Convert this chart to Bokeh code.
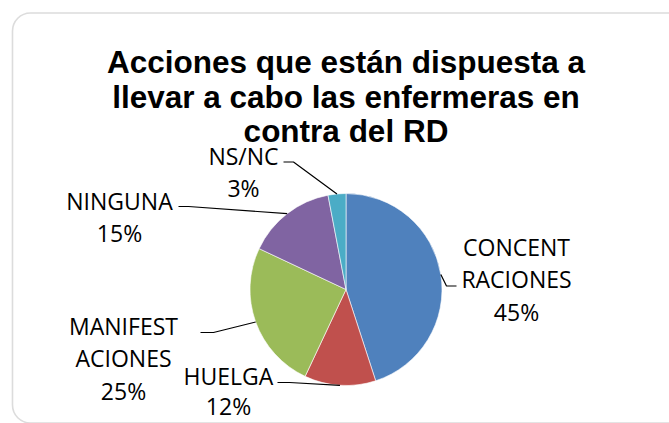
import math
from bokeh.plotting import figure
from bokeh.models import Range1d, BoxAnnotation, ColumnDataSource
from bokeh.core.properties import value
from bokeh.embed import file_html
from bokeh.resources import INLINE

# ---- data ----
categories = ["CONCENTRACIONES", "HUELGA", "MANIFESTACIONES", "NINGUNA", "NS/NC"]
percentages = [45, 12, 25, 15, 3]
label_lines = [["CONCENT", "RACIONES"], ["HUELGA"], ["MANIFEST", "ACIONES"], ["NINGUNA"], ["NS/NC"]]
colors = ["#4F81BD", "#C0504D", "#9BBB59", "#8064A2", "#4BACC6"]
title_lines = ["Acciones que están dispuesta a",
               "llevar a cabo las enfermeras en",
               "contra del RD"]

# ---- layout (picture pixel coordinates, y downwards) ----
W, H = 669, 423
cx, cy, r = 345.5, 289.0, 96.0
label_anchor = [(516, 246), (228, 375), (123, 325), (119, 200), (243, 155)]
label_step = [32.5, 30.5, 32.5, 32.5, 32.5]
leader_start = [(456, 285.5), (277, 382), (200, 332), (178, 206), (283, 161.5)]
leader_elbow = [(446, 285.5), (289, 382), (213, 332), (188, 206), (293, 161.5)]

p = figure(width=W, height=H, output_backend="svg", toolbar_location=None,
           x_range=Range1d(0, W), y_range=Range1d(-H, 0),
           min_border=0)
p.axis.visible = False
p.grid.visible = False
p.outline_line_color = None
p.background_fill_color = "white"
p.border_fill_color = "white"

# rounded chart border
p.add_layout(BoxAnnotation(left=12, right=700, top=-12.5, bottom=-422.5,
                           fill_color=None, line_color="#8a8a8a", line_width=1.6,
                           border_radius=18))

# pie wedges
total = sum(percentages)
starts, ends, mids = [], [], []
acc = 0
for v in percentages:
    a0 = math.pi / 2 - 2 * math.pi * acc / total
    acc += v
    a1 = math.pi / 2 - 2 * math.pi * acc / total
    starts.append(a0)
    ends.append(a1)
    mids.append((a0 + a1) / 2)

src = ColumnDataSource(dict(cat=categories, val=percentages, start=starts, end=ends, color=colors))
p.wedge(x=cx, y=-cy, radius=r, start_angle="start", end_angle="end", direction="clock",
        fill_color="color", line_color="white", line_width=0.6, source=src)

# leader lines
xs, ys = [], []
for i, m in enumerate(mids):
    ex = cx + r * math.cos(m)
    ey = cy - r * math.sin(m)
    sx, sy = leader_start[i]
    bx, by = leader_elbow[i]
    xs.append([sx, bx, ex])
    ys.append([-sy, -by, -ey])
p.multi_line(xs=xs, ys=ys, line_color="black", line_width=1.2)

# data labels
tx, ty, tt = [], [], []
for i, lines in enumerate(label_lines):
    ax, ay = label_anchor[i]
    all_lines = lines + [f"{percentages[i]}%"]
    for k, s in enumerate(all_lines):
        tx.append(ax)
        ty.append(-(ay + k * label_step[i]))
        tt.append(s)
p.text(x=tx, y=ty, text=tt, text_font=value("Open Sans"), text_font_size="23px",
       text_align="center", text_baseline="middle", text_color="black")

# title
title_base = [61.5, 96, 130.5]
p.text(x=[cx] * len(title_lines), y=[-b for b in title_base], text=title_lines,
       text_font=value("Liberation Sans"), text_font_style="bold", text_font_size="31.5px",
       text_align="center", text_baseline="alphabetic", text_color="black")

open("out.html", "w").write(file_html(p, INLINE))
